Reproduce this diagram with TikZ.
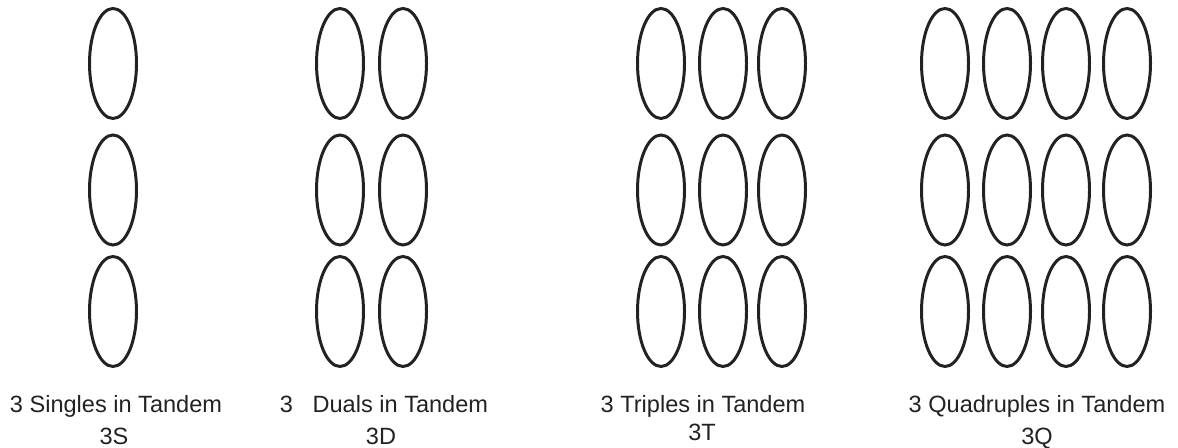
\documentclass[tikz,border=0pt]{standalone}
\usepackage{fontspec}
\setmainfont{Liberation Sans}
\usetikzlibrary{shapes.geometric, positioning}
\definecolor{tinta}{HTML}{222222}
\tikzset{
  wheel/.style={ellipse, draw=tinta, line width=1.7pt, minimum width=0.94cm, minimum height=2.2cm,
                inner sep=0pt},
  caption/.style={anchor=base, inner sep=0pt, text=tinta, font=\fontsize{13.4}{15}\selectfont}
}

\begin{document}
\begin{tikzpicture}
  \useasboundingbox (0,0) rectangle (23.56,8.96);
  % three axle rows of each configuration
  \foreach \r/\y in {1/7.69, 2/5.16, 3/2.73} {
    \node (s\r) [wheel] at (2.26,\y) {};
    \foreach \c/\x in {1/6.80, 2/8.06}
      \node (d\r\c) [wheel] at (\x,\y) {};
    \foreach \c/\x in {1/13.22, 2/14.46, 3/15.64}
      \node (t\r\c) [wheel] at (\x,\y) {};
    \foreach \c/\x in {1/18.90, 2/20.14, 3/21.32, 4/22.54}
      \node (q\r\c) [wheel] at (\x,\y) {};
  }
  % captions
  \node (capS) [caption] at (2.32,0.70) {3 Singles in Tandem};
  \node (codS) [caption] at (2.28,0.07) {3S};
  \node (capD) [caption] at (7.68,0.70) {3~~~Duals in Tandem};
  \node (codD) [caption] at (7.62,0.07) {3D};
  \node (capT) [caption] at (14.06,0.70) {3 Triples in Tandem};
  \node (codT) [caption] at (14.04,0.14) {3T};
  \node (capQ) [caption] at (20.74,0.70) {3 Quadruples in Tandem};
  \node (codQ) [caption] at (20.74,0.07) {3Q};
\end{tikzpicture}
\end{document}
